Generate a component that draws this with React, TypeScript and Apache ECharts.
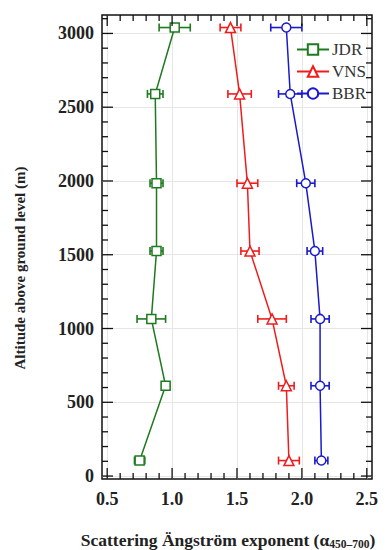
import React, { useEffect, useRef } from "react";
import * as echarts from "echarts";

const altitudes = [105, 612, 1065, 1525, 1985, 2590, 3040];
const jdr = [0.75, 0.95, 0.84, 0.88, 0.88, 0.87, 1.02];
const jdrErr = [0.04, 0.03, 0.11, 0.05, 0.05, 0.06, 0.12];
const vns = [1.9, 1.88, 1.77, 1.6, 1.58, 1.52, 1.45];
const vnsErr = [0.08, 0.06, 0.11, 0.07, 0.08, 0.09, 0.08];
const bbr = [2.15, 2.14, 2.14, 2.1, 2.03, 1.91, 1.88];
const bbrErr = [0.05, 0.07, 0.07, 0.06, 0.07, 0.09, 0.12];

const xMajor = [0.5, 1.0, 1.5, 2.0, 2.5];
const xMinor = [0.6, 0.7, 0.8, 0.9, 1.1, 1.2, 1.3, 1.4, 1.6, 1.7, 1.8, 1.9, 2.1, 2.2, 2.3, 2.4];
const yMajor = [0, 500, 1000, 1500, 2000, 2500, 3000];
const yMinor = [100, 200, 300, 400, 600, 700, 800, 900, 1100, 1200, 1300, 1400, 1600, 1700, 1800, 1900, 2100, 2200, 2300, 2400, 2600, 2700, 2800, 2900, 3100];

const X_MIN = 0.46, X_MAX = 2.54, Y_MIN = -20, Y_MAX = 3125;
const FONT = "Liberation Serif";
const MAJOR_LEN = 11, MINOR_LEN = 6;

const seriesDefs = [
  { name: "JDR", vals: jdr, errs: jdrErr, color: "#1e7a1e", symbol: "rect", size: 9 },
  { name: "VNS", vals: vns, errs: vnsErr, color: "#f01c1c", symbol: "triangle", size: 10 },
  { name: "BBR", vals: bbr, errs: bbrErr, color: "#1a1ac8", symbol: "circle", size: 9 },
];

export default function App() {
  const ref = useRef<HTMLDivElement>(null);
  useEffect(() => {
    if (!ref.current) return;
    const chart = echarts.init(ref.current, null, { renderer: "svg" });
    const tickStyle = { stroke: "#111", lineWidth: 1.3 };
    const series: any[] = [];
    series.push({
      type: "custom",
      name: "xticks",
      xAxisIndex: 0, yAxisIndex: 0,
      z: 5, silent: true,
      encode: { x: 0 },
      data: [...xMajor.map((v) => [v, 1]), ...xMinor.map((v) => [v, 0])],
      renderItem: (params: any, api: any) => {
        const cs = params.coordSys;
        const px = api.coord([api.value(0), Y_MIN])[0];
        const len = api.value(1) ? MAJOR_LEN : MINOR_LEN;
        const bottom = cs.y + cs.height;
        return {
          type: "group",
          children: [
            { type: "line", shape: { x1: px, y1: bottom, x2: px, y2: bottom - len }, style: tickStyle },
            { type: "line", shape: { x1: px, y1: cs.y, x2: px, y2: cs.y + len }, style: tickStyle },
          ],
        };
      },
    });
    series.push({
      type: "custom",
      name: "yticks",
      xAxisIndex: 0, yAxisIndex: 0,
      z: 5, silent: true,
      encode: { y: 0 },
      data: [...yMajor.map((v) => [v, 1]), ...yMinor.map((v) => [v, 0])],
      renderItem: (params: any, api: any) => {
        const cs = params.coordSys;
        const py = api.coord([X_MIN, api.value(0)])[1];
        const len = api.value(1) ? MAJOR_LEN : MINOR_LEN;
        const right = cs.x + cs.width;
        return {
          type: "group",
          children: [
            { type: "line", shape: { x1: cs.x, y1: py, x2: cs.x + len, y2: py }, style: tickStyle },
            { type: "line", shape: { x1: right, y1: py, x2: right - len, y2: py }, style: tickStyle },
          ],
        };
      },
    });
    seriesDefs.forEach((s) => {
      series.push({
        type: "custom",
        name: s.name + "-err",
        xAxisIndex: 0, yAxisIndex: 0,
        z: 2, silent: true,
        encode: { x: [0, 1], y: 2 },
        data: s.vals.map((v, i) => [v - s.errs[i], v + s.errs[i], altitudes[i]]),
        renderItem: (params: any, api: any) => {
          const lo = api.coord([api.value(0), api.value(2)]);
          const hi = api.coord([api.value(1), api.value(2)]);
          const c = 4;
          const style = { stroke: s.color, lineWidth: 1.6, fill: "none" };
          return {
            type: "group",
            children: [
              { type: "line", shape: { x1: lo[0], y1: lo[1], x2: hi[0], y2: hi[1] }, style },
              { type: "line", shape: { x1: lo[0], y1: lo[1] - c, x2: lo[0], y2: lo[1] + c }, style },
              { type: "line", shape: { x1: hi[0], y1: hi[1] - c, x2: hi[0], y2: hi[1] + c }, style },
            ],
          };
        },
      });
    });
    seriesDefs.forEach((s) => {
      series.push({
        type: "line",
        name: s.name,
        xAxisIndex: 0, yAxisIndex: 0,
        z: 3,
        data: s.vals.map((v, i) => [v, altitudes[i]]),
        symbol: s.symbol,
        symbolSize: s.size,
        showAllSymbol: true,
        lineStyle: { color: s.color, width: 1.5 },
        itemStyle: { color: "#fff", borderColor: s.color, borderWidth: 1.5 },
        emphasis: { disabled: true },
      });
    });
    chart.setOption({
      animation: false,
      grid: { left: 102, right: 18, top: 15, bottom: 71, containLabel: false, show: true, borderColor: "#111", borderWidth: 1.5, backgroundColor: "transparent" },
      xAxis: {
        type: "value", min: X_MIN, max: X_MAX,
        axisLine: { show: false },
        axisTick: { show: false, customValues: xMajor },
        axisLabel: { show: true, customValues: xMajor, formatter: (v: number) => v.toFixed(1), fontFamily: FONT, fontWeight: "bold", fontSize: 18, color: "#222", margin: 11 },
        splitLine: { show: true, lineStyle: { color: "#e6e6e6", width: 1 } },
      },
      yAxis: {
        type: "value", min: Y_MIN, max: Y_MAX,
        axisLine: { show: false },
        axisTick: { show: false, customValues: yMajor },
        axisLabel: { show: true, customValues: yMajor, formatter: (v: number) => String(v), fontFamily: FONT, fontWeight: "bold", fontSize: 18, color: "#222", margin: 8 },
        splitLine: { show: true, lineStyle: { color: "#e6e6e6", width: 1 } },
      },
      legend: {
        data: seriesDefs.map((s) => s.name),
        orient: "vertical",
        left: 291,
        top: 36,
        itemWidth: 32,
        itemHeight: 13,
        itemGap: 5,
        selectedMode: false,
        textStyle: { fontFamily: FONT, fontSize: 17, color: "#333", padding: [0, 0, 0, -2] },
      },
      graphic: [
        {
          type: "text",
          x: 20, y: 268, rotation: Math.PI / 2,
          style: {
            text: "Altitude above ground level (m)",
            fontFamily: FONT, fontWeight: "bold", fontSize: 15, fill: "#222",
            align: "center", verticalAlign: "middle",
          },
        },
        {
          type: "text",
          x: 228, y: 540,
          style: {
            text: "Scattering Ängström exponent (α{sub|450–700})",
            fontFamily: FONT, fontWeight: "bold", fontSize: 17.5, fill: "#222",
            align: "center", verticalAlign: "middle",
            rich: {
              sub: { fontFamily: FONT, fontWeight: "bold", fontSize: 11.5, fill: "#222", verticalAlign: "bottom", padding: [8, 0, 0, 0] },
            },
          },
        },
      ],
      series,
    });
    return () => chart.dispose();
  }, []);
  return <div ref={ref} style={{ position: "fixed", left: 0, top: 0, width: 390, height: 550, background: "#fff" }} />;
}
